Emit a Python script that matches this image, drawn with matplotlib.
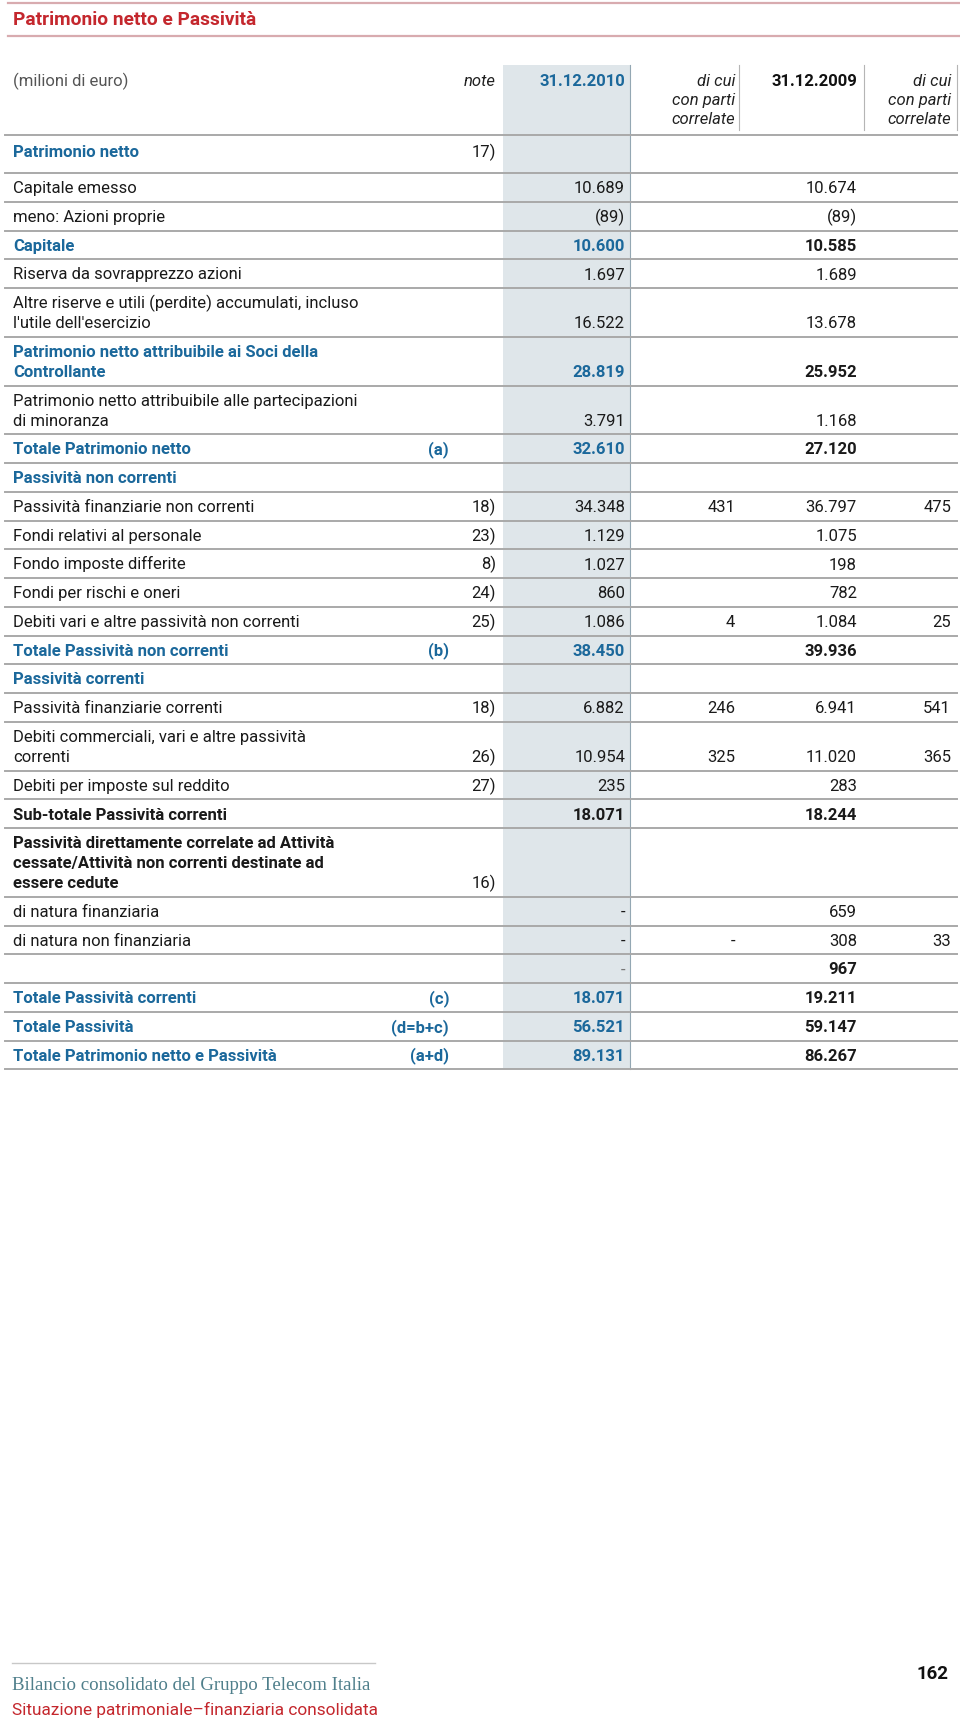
import matplotlib
matplotlib.use("Agg")
import matplotlib.pyplot as plt
from matplotlib.patches import Rectangle

plt.rcParams['font.family'] = ['Roboto', 'DejaVu Sans']

BLUE = '#1b689b'
RED = '#c4272d'
GRID = '#a9a9a9'

# --- dati della tabella ---
labels = [
    "Patrimonio netto",
    "Capitale emesso",
    "meno: Azioni proprie",
    "Capitale",
    "Riserva da sovrapprezzo azioni",
    "Altre riserve e utili (perdite) accumulati, incluso\nl'utile dell'esercizio",
    "Patrimonio netto attribuibile ai Soci della\nControllante",
    "Patrimonio netto attribuibile alle partecipazioni\ndi minoranza",
    "Totale Patrimonio netto",
    "Passività non correnti",
    "Passività finanziarie non correnti",
    "Fondi relativi al personale",
    "Fondo imposte differite",
    "Fondi per rischi e oneri",
    "Debiti vari e altre passività non correnti",
    "Totale Passività non correnti",
    "Passività correnti",
    "Passività finanziarie correnti",
    "Debiti commerciali, vari e altre passività\ncorrenti",
    "Debiti per imposte sul reddito",
    "Sub-totale Passività correnti",
    "Passività direttamente correlate ad Attività\ncessate/Attività non correnti destinate ad\nessere cedute",
    "di natura finanziaria",
    "di natura non finanziaria",
    "",
    "Totale Passività correnti",
    "Totale Passività",
    "Totale Patrimonio netto e Passività",
]
notes = ["17)", "", "", "", "", "", "", "", "(a)", "", "18)", "23)", "8)", "24)", "25)",
         "(b)", "", "18)", "26)", "27)", "", "16)", "", "", "", "(c)", "(d=b+c)", "(a+d)"]
val_2010 = ["", "10.689", "(89)", "10.600", "1.697", "16.522", "28.819", "3.791", "32.610", "",
            "34.348", "1.129", "1.027", "860", "1.086", "38.450", "", "6.882", "10.954", "235",
            "18.071", "", "-", "-", "-", "18.071", "56.521", "89.131"]
rel_2010 = ["", "", "", "", "", "", "", "", "", "", "431", "", "", "", "4", "", "", "246", "325",
            "", "", "", "", "-", "", "", "", ""]
val_2009 = ["", "10.674", "(89)", "10.585", "1.689", "13.678", "25.952", "1.168", "27.120", "",
            "36.797", "1.075", "198", "782", "1.084", "39.936", "", "6.941", "11.020", "283",
            "18.244", "", "659", "308", "967", "19.211", "59.147", "86.267"]
rel_2009 = ["", "", "", "", "", "", "", "", "", "", "475", "", "", "", "25", "", "", "541", "365",
            "", "", "", "", "33", "", "", "", ""]
# n = normale, s = sezione, t = totale, b = grassetto nero
kinds = ["s", "n", "n", "t", "n", "n", "t", "n", "t", "s", "n", "n", "n", "n", "n", "t", "s",
         "n", "n", "n", "b", "b", "n", "n", "b", "t", "t", "t"]

fig = plt.figure(figsize=(9.6, 17.2), dpi=100)
ax = fig.add_axes([0, 0, 1, 1])
ax.set_xlim(0, 960)
ax.set_ylim(1720, 0)
ax.axis('off')

FS = 12

# titolo
ax.plot([8, 960], [3, 3], color='#d8abaf', lw=1.6)
ax.plot([8, 960], [36, 36], color='#d8abaf', lw=1.6)
ax.text(13, 25, "Patrimonio netto e Passività", color=RED, fontsize=13.8,
        fontweight='bold', va='baseline')

# colonna evidenziata
top, bottom_tab = 65, 1069
ax.add_patch(Rectangle((503, top), 127, bottom_tab - top, color='#dfe6ea', lw=0, zorder=0))
ax.plot([630, 630], [top, bottom_tab], color='#93a7b3', lw=0.8, zorder=1)

# intestazione
ax.text(13, 86, "(milioni di euro)", color='#555555', fontsize=FS, va='baseline')
ax.text(496, 86, "note", fontsize=FS, style='italic', ha='right', va='baseline', color='#222222')
ax.text(625, 86, "31.12.2010", fontsize=FS, fontweight='bold', color=BLUE, ha='right', va='baseline')
ax.text(857, 86, "31.12.2009", fontsize=FS, fontweight='bold', color='#111111', ha='right', va='baseline')
for xr in (735, 951):
    for k, s in enumerate(["di cui", "con parti", "correlate"]):
        ax.text(xr, 86 + k * 19, s, fontsize=FS, style='italic', ha='right', va='baseline',
                color='#222222')
for xv in (739, 864, 957):
    ax.plot([xv, xv], [65, 130], color='#b5b5b5', lw=0.8)

# righe
y = 135
ax.plot([5, 957], [y, y], color=GRID, lw=1.4)
single, extra = 28.75, 20.0
for i, lab in enumerate(labels):
    nl = lab.count("\n") + 1
    h = 38 if i == 0 else single + extra * (nl - 1)
    bot = y + h
    base = bot - (16 if i == 0 else 8.5)
    k = kinds[i]
    lab_col = BLUE if k in ("s", "t") else '#1a1a1a'
    lab_w = 'bold' if k in ("s", "t", "b") else 'normal'
    for j, line in enumerate(lab.split("\n")):
        ax.text(13, base - (nl - 1 - j) * extra, line, color=lab_col, fontweight=lab_w,
                fontsize=FS, va='baseline')
    nt = notes[i]
    if nt.startswith("("):
        ax.text(449, base, nt, color=BLUE, fontweight='bold', fontsize=FS, ha='right', va='baseline')
    elif nt:
        ax.text(496, base, nt, color='#1a1a1a', fontsize=FS, ha='right', va='baseline')
    bold_vals = k in ("t", "b")
    c10 = BLUE if k == "t" else '#1a1a1a'
    w = 'bold' if bold_vals else 'normal'
    if val_2010[i] == "-" and k == "b":
        w10, c10 = 'normal', '#777777'
    else:
        w10 = w
    ax.text(625, base, val_2010[i], color=c10, fontweight=w10, fontsize=FS, ha='right', va='baseline')
    ax.text(857, base, val_2009[i], color='#1a1a1a', fontweight=w, fontsize=FS, ha='right', va='baseline')
    ax.text(735, base, rel_2010[i], color='#1a1a1a', fontsize=FS, ha='right', va='baseline')
    ax.text(951, base, rel_2009[i], color='#1a1a1a', fontsize=FS, ha='right', va='baseline')
    y = bot
    ax.plot([5, 957], [y, y], color=GRID, lw=1.4)

# piè di pagina
ax.plot([12, 375], [1663, 1663], color='#c8c8c8', lw=1.0)
ax.text(12, 1690, "Bilancio consolidato del Gruppo Telecom Italia", color='#4f7f8b',
        fontsize=13.6, family=['Liberation Serif', 'DejaVu Serif'], va='baseline')
ax.text(12, 1715, "Situazione patrimoniale–finanziaria consolidata", color=RED,
        fontsize=12.4, va='baseline')
ax.text(949, 1679, "162", color='#111111', fontsize=13.5, fontweight='bold', ha='right',
        va='baseline')

fig.savefig("out.png", dpi=100, facecolor='white')
